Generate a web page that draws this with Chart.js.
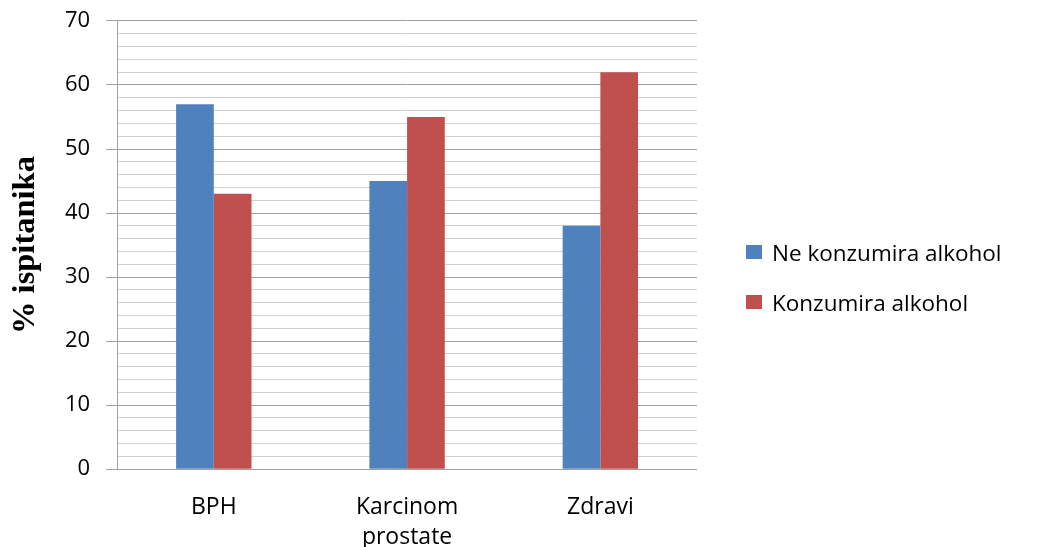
<!DOCTYPE html>
<html>
<head>
<meta charset="utf-8">
<script src="https://cdn.jsdelivr.net/npm/chart.js@4"></script>
<style>
  html, body { margin: 0; padding: 0; background: #fff; }
  #wrap { position: relative; width: 1049px; height: 547px; }
  #legend { position: absolute; left: 746px; top: 227px; font-family: 'Open Sans'; font-size: 22.5px; color: #000; }
  #legend .item { display: flex; align-items: center; height: 50px; white-space: nowrap; }
  #legend .box { display: inline-block; width: 16px; height: 14px; margin-right: 10px; }
</style>
</head>
<body>
<div id="wrap">
  <canvas id="chart" width="1049" height="547"></canvas>
  <div id="legend"></div>
</div>
<script>
const categories = ['BPH', ['Karcinom', 'prostate'], 'Zdravi'];
const neKonzumira = [57, 45, 38];
const konzumira = [43, 55, 62];
const seriesNames = ['Ne konzumira alkohol', 'Konzumira alkohol'];
const seriesColors = ['#4f81bd', '#c0504d'];
const yTitle = '% ispitanika';

const isMajor = v => v % 10 === 0;

const chart = new Chart(document.getElementById('chart'), {
    type: 'bar',
    data: {
        labels: categories,
        datasets: [
            {
                label: seriesNames[0],
                data: neKonzumira,
                backgroundColor: seriesColors[0],
                borderWidth: 0
            },
            {
                label: seriesNames[1],
                data: konzumira,
                backgroundColor: seriesColors[1],
                borderWidth: 0
            }
        ]
    },
    options: {
        responsive: false,
        animation: false,
        layout: {
            padding: { left: 6, top: 0, right: 352, bottom: -28 }
        },
        datasets: {
            bar: { categoryPercentage: 0.39, barPercentage: 1 }
        },
        plugins: {
            tooltip: { enabled: false },
            legend: { display: false }
        },
        scales: {
            x: {
                grid: { display: false, drawTicks: false },
                border: { display: false },
                ticks: {
                    color: '#000',
                    padding: 23,
                    font: { family: 'Open Sans', size: 23, lineHeight: 1.3 }
                }
            },
            y: {
                min: 0,
                max: 70,
                ticks: {
                    stepSize: 2,
                    autoSkip: false,
                    padding: 16,
                    color: '#000',
                    font: { family: 'Open Sans', size: 22, lineHeight: 0.45 },
                    callback: v => isMajor(v) ? v : ''
                },
                grid: {
                    color: ctx => isMajor(ctx.tick.value) ? '#a0a0a0' : '#d0d0d0',
                    tickColor: ctx => isMajor(ctx.tick.value) ? '#a0a0a0' : 'rgba(0,0,0,0)',
                    tickLength: 11,
                    lineWidth: 1
                },
                border: { display: true, color: '#a0a0a0' },
                title: {
                    display: true,
                    text: yTitle,
                    color: '#000',
                    font: { family: 'Liberation Serif', size: 32.5, weight: 'bold' },
                    padding: { top: 0, bottom: 4 }
                }
            }
        }
    }
});

// legend built from the chart's own datasets
const legendEl = document.getElementById('legend');
chart.data.datasets.forEach(ds => {
    const row = document.createElement('div');
    row.className = 'item';
    const box = document.createElement('span');
    box.className = 'box';
    box.style.background = ds.backgroundColor;
    const txt = document.createElement('span');
    txt.textContent = ds.label;
    row.appendChild(box);
    row.appendChild(txt);
    legendEl.appendChild(row);
});
</script>
</body>
</html>
